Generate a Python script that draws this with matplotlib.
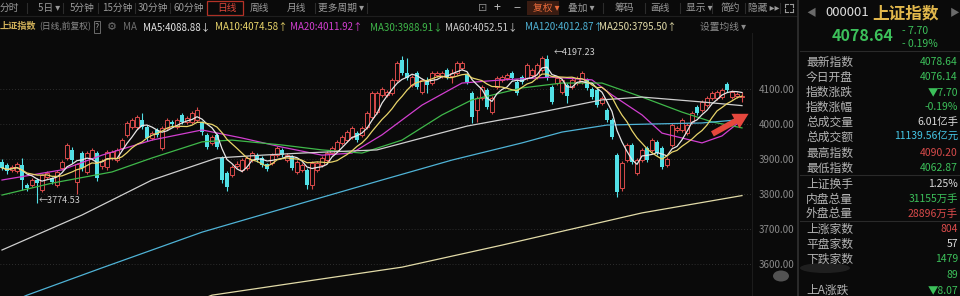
import numpy as np
import pandas as pd
import matplotlib
matplotlib.use('Agg')
import matplotlib.pyplot as plt
from matplotlib.patches import Rectangle, Ellipse
from matplotlib.lines import Line2D

plt.rcParams['font.family'] = ['Noto Sans CJK SC', 'DejaVu Sans']
plt.rcParams['axes.unicode_minus'] = False

# daily candles, 上证指数
opens = [3892, 3883, 3868, 3865, 3883, 3826, 3826, 3840, 3811, 3850,
         3845, 3826, 3875, 3903, 3926, 3835, 3917, 3863, 3903, 3917,
         3880, 3877, 3903, 3897, 3931, 3969, 3991, 3991, 4011, 3991,
         3960, 3983, 3931, 3989, 4006, 3991, 4026, 4005, 4005, 4011,
         4005, 3969, 3946, 3969, 3903, 3860, 3854, 3880, 3869, 3875,
         3897, 3911, 3903, 3885, 3889, 3911, 3926, 3897, 3906, 3863,
         3869, 3869, 3826, 3869, 3883, 3897, 3917, 3926, 3946, 3954,
         3963, 3974, 3969, 3991, 4020, 4034, 4083, 4083, 4089, 4126,
         4183, 4146, 4111, 4146, 4091, 4126, 4117, 4140, 4137, 4154,
         4137, 4146, 4160, 4140, 4089, 4040, 4074, 4097, 4034, 4106,
         4126, 4131, 4146, 4120, 4134, 4131, 4140, 4134, 4154, 4185,
         4106, 4117, 4091, 4111, 4106, 4117, 4120, 4126, 4100, 4097,
         4060, 4040, 4011, 3911, 3817, 3897, 3940, 3860, 3897, 3931,
         3926, 3949, 3931, 3883, 3940, 3983, 3983, 3974, 4005, 4049,
         4040, 4054, 4074, 4074, 4077, 4114, 4077, 4080, 4076.14]
closes = [3875, 3865, 3877, 3885, 3840, 3818, 3840, 3832, 3854, 3860,
          3834, 3863, 3892, 3940, 3897, 3885, 3874, 3917, 3926, 3846,
          3895, 3920, 3920, 3926, 3954, 4003, 4011, 4020, 3991, 3960,
          3974, 3969, 3989, 4011, 4000, 4011, 4005, 4017, 4031, 4040,
          3977, 3934, 3963, 3934, 3840, 3820, 3877, 3887, 3897, 3903,
          3917, 3897, 3883, 3872, 3911, 3931, 3911, 3911, 3874, 3892,
          3883, 3826, 3889, 3889, 3903, 3917, 3931, 3949, 3963, 3977,
          3989, 3954, 3989, 4031, 4089, 4089, 4100, 4091, 4126, 4174,
          4146, 4131, 4134, 4106, 4126, 4111, 4146, 4146, 4146, 4134,
          4146, 4174, 4174, 4120, 4020, 4074, 4106, 4049, 4074, 4131,
          4134, 4140, 4131, 4089, 4120, 4169, 4154, 4169, 4189, 4131,
          4063, 4131, 4126, 4080, 4126, 4131, 4146, 4103, 4077, 4054,
          4074, 4011, 3963, 3806, 3889, 3940, 3892, 3897, 3926, 3897,
          3954, 3917, 3877, 3900, 3997, 3989, 4011, 3997, 4031, 4031,
          4063, 4074, 4089, 4091, 4097, 4097, 4091, 4086.34, 4078.64]
highs = [3900, 3890, 3884, 3892, 3903, 3832, 3846, 3845, 3858, 3866,
         3850, 3868, 3898, 3946, 3935, 3890, 3922, 3922, 3932, 3922,
         3900, 3925, 3926, 3932, 3960, 4008, 4018, 4026, 4031, 3996,
         3980, 3988, 3994, 4017, 4012, 4016, 4032, 4023, 4036, 4048,
         4010, 3974, 3968, 3975, 3908, 3866, 3882, 3893, 3902, 3908,
         3922, 3916, 3908, 3890, 3916, 3936, 3931, 3916, 3911, 3897,
         3888, 3874, 3894, 3894, 3908, 3922, 3936, 3954, 3968, 3982,
         3994, 3979, 3994, 4036, 4094, 4095, 4106, 4097, 4131, 4180,
         4195, 4190, 4140, 4151, 4131, 4134, 4151, 4151, 4152, 4159,
         4157, 4179, 4180, 4145, 4094, 4079, 4111, 4102, 4079, 4136,
         4139, 4145, 4151, 4125, 4139, 4174, 4159, 4174, 4194, 4197.23,
         4111, 4136, 4131, 4116, 4131, 4136, 4151, 4131, 4105, 4102,
         4079, 4045, 4016, 3916, 3894, 3945, 3945, 3902, 3931, 3936,
         3959, 3954, 3936, 3905, 4002, 3994, 4016, 4002, 4036, 4054,
         4068, 4079, 4094, 4096, 4102, 4120, 4096, 4092, 4090.20]
lows = [3868, 3858, 3862, 3860, 3811, 3810, 3820, 3774.53, 3806, 3844,
        3828, 3820, 3870, 3898, 3890, 3800, 3866, 3858, 3898, 3838,
        3872, 3870, 3897, 3892, 3926, 3962, 3985, 3986, 3985, 3952,
        3954, 3962, 3925, 3984, 3995, 3986, 4000, 4000, 4000, 4006,
        3970, 3928, 3940, 3928, 3832, 3810, 3848, 3874, 3864, 3870,
        3892, 3891, 3877, 3866, 3884, 3906, 3905, 3892, 3868, 3858,
        3864, 3815, 3815, 3864, 3878, 3892, 3912, 3921, 3941, 3949,
        3958, 3949, 3964, 3986, 4015, 4028, 4078, 4078, 4084, 4121,
        4140, 4125, 4106, 4100, 4086, 4089, 4112, 4135, 4132, 4129,
        4117, 4141, 4155, 4114, 4003, 4005, 4069, 4043, 4029, 4101,
        4121, 4126, 4126, 4083, 4115, 4126, 4135, 4129, 4149, 4125,
        4057, 4112, 4086, 4060, 4101, 4112, 4115, 4097, 4071, 4048,
        4055, 4005, 3957, 3792, 3810, 3892, 3886, 3855, 3892, 3891,
        3921, 3911, 3871, 3878, 3935, 3978, 3978, 3969, 4000, 4026,
        4035, 4049, 4069, 4069, 4072, 4092, 4072, 4074, 4062.87]

# longer moving averages (candle index, value)
ma20_idx = [0, 12, 20, 30, 40, 48, 56, 64, 70, 76, 84, 92, 100, 110, 118, 122, 128, 132, 140, 144, 148]
ma20_val = [3840, 3869, 3911, 3954, 3983, 3960, 3934, 3911, 3917, 3969, 4054, 4117, 4126, 4134, 4126,
            4083, 4026, 3974, 3946, 3966, 4011.92]
ma30_idx = [0, 10, 22, 30, 40, 46, 56, 64, 72, 80, 88, 94, 104, 112, 120, 128, 136, 142, 148]
ma30_val = [3797, 3831, 3863, 3903, 3949, 3954, 3940, 3926, 3917, 3954, 4026, 4069, 4103, 4117, 4117,
            4077, 4034, 4006, 3988.91]
ma60_idx = [0, 16, 30, 37, 43, 52, 60, 75, 84, 93, 104, 112, 120, 128, 140, 148]
ma60_val = [3640, 3740, 3840, 3874, 3903, 3911, 3917, 3926, 3960, 3994, 4023, 4046, 4069, 4077, 4063, 4052.51]
ma120_idx = [0, 5, 20, 40, 60, 76, 90, 104, 112, 121, 130, 140, 148]
ma120_val = [3480, 3511, 3589, 3691, 3774, 3840, 3897, 3946, 3977, 3997, 4000, 4003, 4012.87]
ma250_idx = [40, 42, 60, 80, 100, 128, 148]
ma250_val = [3500, 3511, 3549, 3591, 3654, 3746, 3795.50]

ma_names = ['MA5', 'MA10', 'MA20', 'MA30', 'MA60', 'MA120', 'MA250']
ma_last = [4088.88, 4074.58, 4011.92, 3988.91, 4052.51, 4012.87, 3795.50]
ma_dir = ['↓', '↑', '↑', '↓', '↓', '↑', '↑']
ma_colors = ['#e6e6e6', '#e8d46a', '#d23fd0', '#3fb84a', '#cfcfcf', '#4fb3d6', '#e2dba8']

price_ticks = [3600, 3700, 3800, 3900, 4000, 4100]

bg = '#0a0a0a'
red = '#d84a4a'
cyan = '#52e0e6'
green = '#3cc05a'
W, H = 960, 296

fig = plt.figure(figsize=(9.6, 2.96), dpi=100, facecolor=bg)


def put(x, y, s, color, size=7, **kw):
    fig.text(x / W, 1 - y / H, s, color=color, fontsize=size, va='center', **kw)


def hline(x1, x2, y, color='#262626', lw=0.8):
    fig.add_artist(Line2D([x1 / W, x2 / W], [1 - y / H, 1 - y / H], color=color, lw=lw))


def vline(x, y1, y2, color='#2a2a2a', lw=0.8):
    fig.add_artist(Line2D([x / W, x / W], [1 - y1 / H, 1 - y2 / H], color=color, lw=lw))


def box(x1, y1, x2, y2, **kw):
    fig.add_artist(Rectangle((x1 / W, 1 - y2 / H), (x2 - x1) / W, (y2 - y1) / H,
                             transform=fig.transFigure, **kw))


# ---- price chart ----
ax = fig.add_axes([0, 0, 752 / W, (H - 33) / H], facecolor=bg)
ax.set_xlim(-0.4, 150)
ax.set_ylim(3508.6, 4260)

o = np.array(opens)
c = np.array(closes)
h = np.array(highs)
l = np.array(lows)
idx = np.arange(len(c))
up = c >= o
bottom = np.minimum(o, c)
height = np.maximum(np.abs(c - o), 1.5)

ax.vlines(idx, l, h, colors=np.where(up, red, cyan), lw=0.8, zorder=2)
ax.bar(idx[up], height[up], bottom=bottom[up], width=0.68, facecolor=bg,
       edgecolor=red, lw=0.7, zorder=3)
ax.bar(idx[~up], height[~up], bottom=bottom[~up], width=0.68, color=cyan, lw=0, zorder=3)

s = pd.Series(closes)
ax.plot(idx, s.rolling(5, min_periods=1).mean(), color=ma_colors[0], lw=0.9, zorder=5)
ax.plot(idx, s.rolling(10, min_periods=1).mean(), color=ma_colors[1], lw=0.9, zorder=5)
ax.plot(ma20_idx, ma20_val, color=ma_colors[2], lw=0.9, zorder=4)
ax.plot(ma30_idx, ma30_val, color=ma_colors[3], lw=0.9, zorder=4)
ax.plot(ma60_idx, ma60_val, color=ma_colors[4], lw=0.9, zorder=4)
ax.plot(ma120_idx, ma120_val, color=ma_colors[5], lw=0.9, zorder=4)
ax.plot(ma250_idx, ma250_val, color=ma_colors[6], lw=0.9, zorder=4)

hi = int(np.argmax(h))
lo = int(np.argmin(l))
ax.text(hi + 1.3, h[hi] + 8, f'←{h[hi]:.2f}', color='#cfcfcf', fontsize=6.5, va='center')
ax.text(lo + 0.3, l[lo] + 6, f'←{l[lo]:.2f}', color='#cfcfcf', fontsize=6.5, va='center')

ax.annotate('', xy=(149.8, 4033), xytext=(141.6, 3968), annotation_clip=False,
            arrowprops=dict(arrowstyle='simple,head_width=1.0,head_length=0.9,tail_width=0.35',
                            mutation_scale=12, color='#e5473d', lw=0), zorder=6)

ax.yaxis.tick_right()
ax.set_yticks(price_ticks)
ax.set_yticklabels([f'{v:.2f}' for v in price_ticks])
ax.tick_params(axis='y', length=0, pad=5, labelsize=7, labelcolor='#8a8a8a')
ax.set_xticks([])
ax.grid(axis='y', color='#3a3a3a', ls=(0, (1, 2.5)), lw=0.6)
ax.set_axisbelow(True)
for sp in ax.spines.values():
    sp.set_visible(False)
ax.spines['right'].set_visible(True)
ax.spines['right'].set_color('#1c1c1c')

# ---- toolbar ----
tool_grey = '#9a9a9a'
hline(0, 797, 15.5, '#1e1e1e')
for x in [27, 63, 98, 135, 170, 315, 367, 603, 645, 680, 712, 745, 780]:
    vline(x, 3, 13, '#2c2c2c')
box(207, 1.5, 243, 14.5, fill=False, edgecolor='#b53227', lw=0.9)
box(527, 1.5, 559, 14.5, facecolor='#3a1c12', edgecolor='none')
for txt, x in [('分时', 0), ('5日 ▾', 38), ('5分钟', 70), ('15分钟', 102), ('30分钟', 138),
               ('60分钟', 173), ('周线', 250), ('月线', 287), ('更多周期 ▾', 318),
               ('叠加 ▾', 568), ('筹码', 615), ('画线', 650), ('显示 ▾', 686), ('简约', 721),
               ('隐藏 ▸▸', 748)]:
    put(x, 8, txt, tool_grey, 7)
put(217, 8, '日线', '#e0483c', 7)
put(533, 8, '复权 ▾', '#e86a3a', 7)
put(478, 8, '⊡', '#8a8a8a', 8)
put(494, 8, '+', '#bdbdbd', 9)
put(513, 8, '−', '#bdbdbd', 9)
for (ax0, ay0, dx, dy) in [(785, 4, 1, 1), (793, 4, -1, 1), (785, 12, 1, -1), (793, 12, -1, -1)]:
    fig.add_artist(Line2D([ax0 / W, (ax0 + 3 * dx) / W], [1 - ay0 / H, 1 - ay0 / H], color='#9a9a9a', lw=0.8))
    fig.add_artist(Line2D([ax0 / W, ax0 / W], [1 - ay0 / H, 1 - (ay0 + 3 * dy) / H], color='#9a9a9a', lw=0.8))

# ---- MA legend row ----
put(0, 27, '上证指数', '#d2b25a', 6.6, fontweight='bold')
put(39, 27, '(日线,前复权)', '#8a8a8a', 6.3)
put(95, 27, '?', '#9a9a9a', 6.3, bbox=dict(boxstyle='square,pad=0.15', fc='none', ec='#6a6a6a', lw=0.7))
put(107, 27, '⚙', '#6e6e6e', 8)
put(123, 27, 'MA', '#6e6e6e', 7)
for name, val, d, col, x in zip(ma_names, ma_last, ma_dir, ma_colors, [143, 215, 290, 370, 445, 525, 599]):
    put(x, 27, f'{name}:{val:.2f}{d}', col, 7)
put(700, 27, '设置均线 ▾', '#8a8a8a', 7)

# ---- right info panel ----
vline(797.5, 0, 296, '#2e2e2e', 1.3)
put(806, 13, '◀', '#6a6a6a', 7)
put(825, 13, '000001', '#dcdcdc', 9.5)
put(872, 13, '上证指数', '#e2b84c', 12, fontweight='bold')
put(950, 13, '▶', '#6a6a6a', 7)
put(832, 36, f'{closes[-1]:.2f}', green, 11.5, fontweight='bold')
put(902, 31, '- 7.70', green, 7.5)
put(902, 44, '- 0.19%', green, 7.5)
for y in [51, 175, 221]:
    hline(800, 960, y, '#2a2a2a')

info_labels = ['最新指数', '今日开盘', '指数涨跌', '指数涨幅', '总成交量', '总成交额', '最高指数', '最低指数',
               '上证换手', '内盘总量', '外盘总量', '上涨家数', '平盘家数', '下跌家数', '', '上A涨跌']
info_values = [f'{closes[-1]:.2f}', f'{opens[-1]:.2f}', '▼7.70', '-0.19%', '6.01亿手', '11139.56亿元',
               f'{highs[-1]:.2f}', f'{lows[-1]:.2f}', '1.25%', '31155万手', '28896万手', '804', '57',
               '1479', '89', '▼8.07']
info_colors = [green, green, green, green, '#dcdcdc', '#45c6e6', red, green, '#dcdcdc', green, red,
               red, '#dcdcdc', green, green, green]
info_y = [62, 77, 92, 107, 122, 137, 153, 168, 184, 199, 214, 229, 244, 259, 275, 290]
for lab, val, col, y in zip(info_labels, info_values, info_colors, info_y):
    if lab:
        put(806, y, lab, '#b4b4b4', 8.5)
    put(958, y, val, col, 7.5, ha='right')

# blurred watermark patches
fig.add_artist(Ellipse((825 / W, 1 - 268 / H), 50 / W, 10 / H, transform=fig.transFigure,
                       facecolor='#3a3a3a', alpha=0.45, edgecolor='none'))
fig.add_artist(Ellipse((781 / W, 1 - 276 / H), 16 / W, 11 / H, transform=fig.transFigure,
                       facecolor='#9a9a9a', alpha=0.5, edgecolor='none'))

fig.savefig('out.png', dpi=100, facecolor=bg)
